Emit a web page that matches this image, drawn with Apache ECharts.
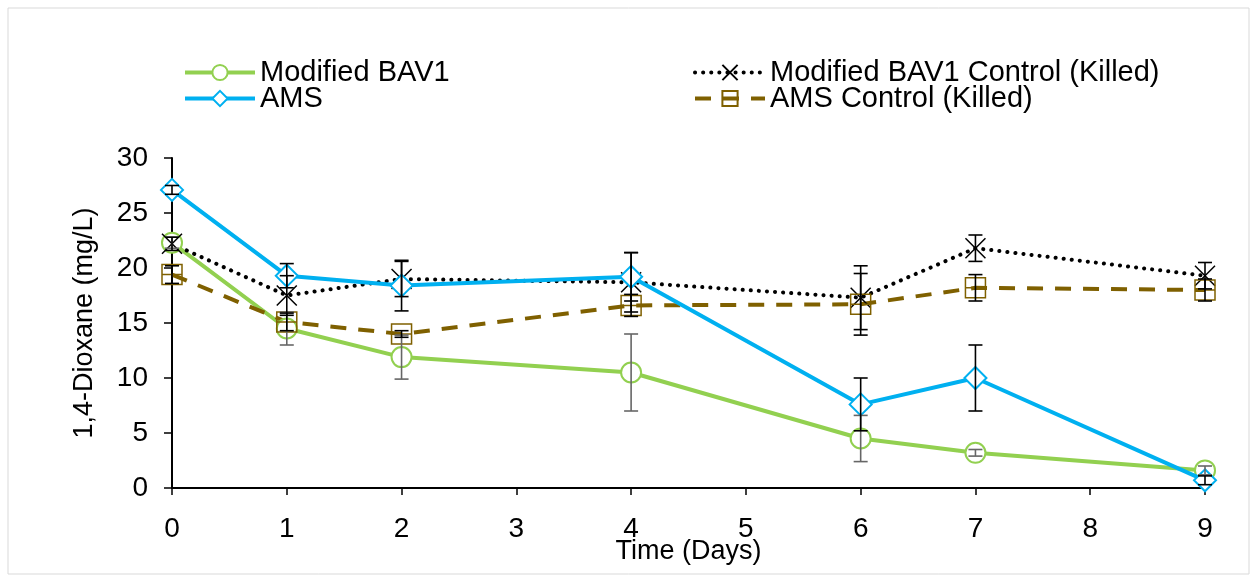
<!DOCTYPE html>
<html>
<head>
<meta charset="utf-8">
<script src="https://cdn.jsdelivr.net/npm/echarts@6/dist/echarts.min.js"></script>
<style>
html, body { margin: 0; padding: 0; background: #fff; }
#chart { width: 1255px; height: 580px; }
</style>
</head>
<body>
<div id="chart"></div>
<script>
// sampling days
var days = [0, 1, 2, 4, 6, 7, 9];

// 1,4-dioxane (mg/L) and error (+/-)
var bav1 = [22.3, 14.5, 11.9, 10.5, 4.5, 3.2, 1.6];
var bav1Err = [0.5, 1.5, 2.0, 3.5, 2.1, 0.3, 0.4];
var ams = [27.1, 19.3, 18.4, 19.2, 7.6, 10.0, 0.7];
var amsErr = [0.4, 1.1, 2.3, 2.2, 2.4, 3.0, 0.4];
var bav1Ctl = [22.2, 17.5, 19.0, 18.7, 17.3, 21.8, 19.3];
var bav1CtlErr = [0.6, 1.8, 1.6, 2.7, 2.9, 1.2, 1.2];
var amsCtl = [19.4, 15.1, 14.0, 16.6, 16.7, 18.2, 18.0];
var amsCtlErr = [0.8, 0.8, 0.3, 1.0, 2.8, 1.2, 1.0];

var xTicks = [0, 1, 2, 3, 4, 5, 6, 7, 8, 9];
var yTicks = [0, 5, 10, 15, 20, 25, 30];

var FONT = 'Liberation Sans, Arial, sans-serif';
var xMark = 'path://M0,0L10,10M10,0L0,10';
var rectMark = 'path://M0,0L10,0L10,10L0,10ZM0,5L10,5';

function pairs(vals){
	return days.map(function(d, i){ return [d, vals[i]]; });
}

function errData(vals, errs){
	return days.map(function(d, i){ return [d, vals[i] - errs[i], vals[i] + errs[i]]; });
}

function errSeries(vals, errs, color){
	return {
		type: 'custom',
		silent: true,
		z: 5,
		data: errData(vals, errs),
		renderItem: function(params, api){
			var lo = api.coord([api.value(0), api.value(1)]);
			var hi = api.coord([api.value(0), api.value(2)]);
			var w = 7;
			var st = { stroke: color, lineWidth: 1.6 };
			return {
				type: 'group',
				children: [
					{ type: 'line', shape: { x1: lo[0], y1: lo[1], x2: hi[0], y2: hi[1] }, style: st },
					{ type: 'line', shape: { x1: lo[0] - w, y1: lo[1], x2: lo[0] + w, y2: lo[1] }, style: st },
					{ type: 'line', shape: { x1: hi[0] - w, y1: hi[1], x2: hi[0] + w, y2: hi[1] }, style: st }
				]
			};
		}
	};
}

var legendText = { fontSize: 29, color: '#000', fontFamily: FONT };

var chart = echarts.init(document.getElementById('chart'));
chart.setOption({
	animation: false,
	textStyle: { fontFamily: FONT },
	graphic: [{
		type: 'rect',
		shape: { x: 8, y: 8, width: 1241, height: 566 },
		style: { fill: 'none', stroke: '#d9d9d9', lineWidth: 1 }
	}],
	legend: [
		{
			data: ['Modified BAV1', 'AMS'],
			orient: 'vertical',
			left: 178, top: 53,
			itemWidth: 70, itemHeight: 19, itemGap: -3,
			lineStyle: { width: 4 },
			textStyle: legendText
		},
		{
			data: ['Modified BAV1 Control (Killed)', 'AMS Control (Killed)'],
			orient: 'vertical',
			left: 688, top: 53,
			itemWidth: 70, itemHeight: 19, itemGap: -3,
			lineStyle: { width: 4 },
			textStyle: legendText
		}
	],
	grid: { left: 172, right: 50, top: 158, bottom: 92 },
	xAxis: {
		type: 'value',
		min: 0, max: 9, interval: 1,
		name: 'Time (Days)',
		nameLocation: 'middle',
		nameGap: 50,
		nameMoveOverlap: false,
		nameTextStyle: { fontSize: 27, color: '#000' },
		axisLine: { lineStyle: { color: '#000', width: 2 } },
		axisTick: { show: true, length: 7, lineStyle: { color: '#000', width: 1.5 } },
		axisLabel: { fontSize: 28, color: '#000', margin: 27,
			formatter: function(v){ return xTicks.indexOf(v) >= 0 ? String(v) : ''; } },
		splitLine: { show: false }
	},
	yAxis: {
		type: 'value',
		min: 0, max: 30, interval: 5,
		name: '1,4-Dioxane (mg/L)',
		nameLocation: 'middle',
		nameGap: 74,
		nameMoveOverlap: false,
		nameTextStyle: { fontSize: 27, color: '#000' },
		axisLine: { show: true, lineStyle: { color: '#000', width: 2 } },
		axisTick: { show: true, length: 8, lineStyle: { color: '#000', width: 1.5 } },
		axisLabel: { fontSize: 28, color: '#000', margin: 24,
			formatter: function(v){ return yTicks.indexOf(v) >= 0 ? String(v) : ''; } },
		splitLine: { show: false }
	},
	series: [
		{
			name: 'Modified BAV1',
			type: 'line',
			data: pairs(bav1),
			symbol: 'emptyCircle', symbolSize: 20,
			color: '#92d050',
			lineStyle: { color: '#92d050', width: 4 },
			itemStyle: { color: '#92d050', borderWidth: 2 },
			z: 3
		},
		{
			name: 'AMS',
			type: 'line',
			data: pairs(ams),
			symbol: 'emptyDiamond', symbolSize: 22,
			color: '#00b0f0',
			lineStyle: { color: '#00b0f0', width: 4 },
			itemStyle: { color: '#00b0f0', borderWidth: 1.5 },
			z: 4
		},
		{
			name: 'Modified BAV1 Control (Killed)',
			type: 'line',
			data: pairs(bav1Ctl),
			symbol: xMark, symbolSize: 20,
			color: '#000',
			lineStyle: { color: '#000', width: 4, type: [0.1, 8], cap: 'round' },
			itemStyle: { color: 'none', borderColor: '#000', borderWidth: 1.5 },
			z: 3
		},
		{
			name: 'AMS Control (Killed)',
			type: 'line',
			data: pairs(amsCtl),
			symbol: rectMark, symbolSize: 20,
			color: '#7f6000',
			lineStyle: { color: '#7f6000', width: 4, type: [16, 12] },
			itemStyle: { color: 'none', borderColor: '#7f6000', borderWidth: 1.5 },
			z: 3
		},
		errSeries(bav1, bav1Err, '#666666'),
		errSeries(ams, amsErr, '#000'),
		errSeries(bav1Ctl, bav1CtlErr, '#000'),
		errSeries(amsCtl, amsCtlErr, '#000')
	]
});
</script>
</body>
</html>
